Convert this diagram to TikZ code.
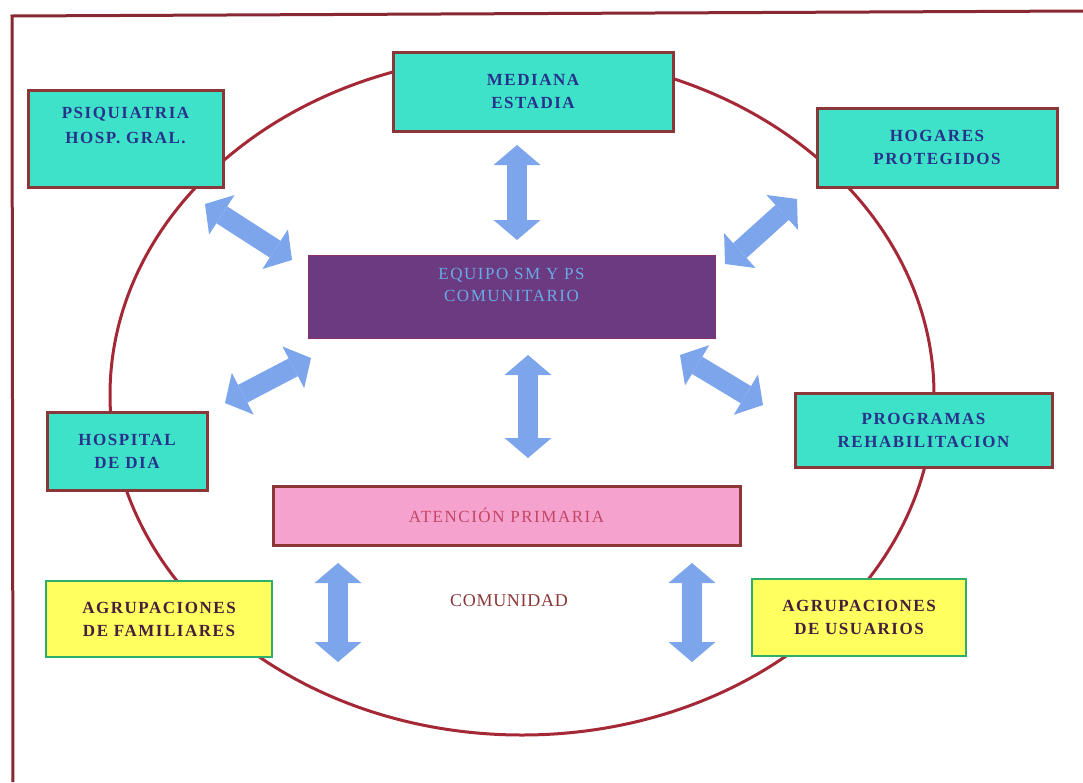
\documentclass[tikz,border=0pt]{standalone}
\usepackage{fontspec}
\setmainfont{Liberation Serif}
\newfontfamily\boxfont[LetterSpace=9]{Liberation Serif}
\newfontfamily\plainfont[LetterSpace=4]{Liberation Serif}
\usetikzlibrary{arrows.meta}

\definecolor{framered}{RGB}{135,40,50}
\definecolor{ringred}{RGB}{165,40,55}
\definecolor{boxred}{RGB}{140,55,55}
\definecolor{tealfill}{RGB}{62,226,200}
\definecolor{navytext}{RGB}{40,50,140}
\definecolor{purplefill}{RGB}{108,58,128}
\definecolor{lightbluetext}{RGB}{105,170,230}
\definecolor{pinkfill}{RGB}{245,162,206}
\definecolor{pinktext}{RGB}{195,70,100}
\definecolor{yellowfill}{RGB}{255,255,95}
\definecolor{greenedge}{RGB}{45,175,105}
\definecolor{darktext}{RGB}{70,30,60}
\definecolor{arrowblue}{RGB}{125,165,235}

\begin{document}
\begin{tikzpicture}[x=1pt,y=-1pt,
  tealbox/.style={draw=boxred, line width=3pt, fill=tealfill, text=navytext,
    font=\boxfont\bfseries\fontsize{17}{23}\selectfont, align=center, inner sep=0pt},
  teambox/.style={draw=purplefill!85!red, line width=1pt, fill=purplefill, text=lightbluetext,
    font=\boxfont\fontsize{17}{22}\selectfont, align=center, inner sep=0pt},
  pinkbox/.style={draw=boxred, line width=3pt, fill=pinkfill, text=pinktext,
    font=\boxfont\fontsize{17}{22}\selectfont, align=center, inner sep=0pt},
  yellowbox/.style={draw=greenedge, line width=2pt, fill=yellowfill, text=darktext,
    font=\boxfont\bfseries\fontsize{17}{23}\selectfont, align=center, inner sep=0pt},
  fatarrow/.style={draw=arrowblue, line width=20pt,
    arrows={Triangle[length=20pt,width=47pt,line width=0pt]-Triangle[length=20pt,width=47pt,line width=0pt]}},
  ring/.style={draw=ringred, line width=3pt},
  frameline/.style={draw=framered, line width=3pt}]

\useasboundingbox (0,0) rectangle (1083,782);
\fill[white] (0,0) rectangle (1083,782);

% open frame: left side and top
\coordinate (fbl) at (13,782);
\coordinate (ftl) at (12,16);
\coordinate (ftr) at (1083,11);
\draw[frameline] (fbl) -- (ftl) -- (ftr);

% community ring
\coordinate (ringc) at (522,395);
\draw[ring] (ringc) ellipse [x radius=412, y radius=340];

% services around the ring
\node[tealbox, minimum width=280, minimum height=79] (mediana) at (533,91.5) {MEDIANA\\ESTADIA};
\node[tealbox, minimum width=195, minimum height=97] (psiq) at (125.5,138.5) {PSIQUIATRIA\\[2pt]HOSP. GRAL.\\[4pt]};
\node[tealbox, minimum width=240, minimum height=79] (hogares) at (937,147.5) {HOGARES\\PROTEGIDOS};
\node[tealbox, minimum width=160, minimum height=78] (hospital) at (127,451) {HOSPITAL\\DE DIA};
\node[tealbox, minimum width=257, minimum height=74] (programas) at (923.5,430) {PROGRAMAS\\REHABILITACION};

% central team and primary care
\node[teambox, minimum width=407, minimum height=83] (equipo) at (511.5,296.5) {EQUIPO SM Y PS\\COMUNITARIO\\[2pt]};
\node[pinkbox, minimum width=467, minimum height=59] (atencion) at (506.5,515.5) {ATENCIÓN PRIMARIA};

% groups
\node[yellowbox, minimum width=226, minimum height=76] (familiares) at (159,619) {AGRUPACIONES\\DE FAMILIARES};
\node[yellowbox, minimum width=214, minimum height=77] (usuarios) at (859,617.5) {AGRUPACIONES\\DE USUARIOS};

\node[text=boxred, font=\plainfont\fontsize{18}{22}\selectfont, inner sep=0pt] (comunidad) at (509,601) {COMUNIDAD};

% two-way links
\coordinate (m1) at (517,145);   \coordinate (m2) at (517,240);
\coordinate (p1) at (205,204);   \coordinate (p2) at (292,260);
\coordinate (h1) at (225,403);   \coordinate (h2) at (311,358);
\coordinate (g1) at (725,264);   \coordinate (g2) at (797,199);
\coordinate (r1) at (680,355);   \coordinate (r2) at (763,405);
\coordinate (c1) at (528,355);   \coordinate (c2) at (528,458);
\coordinate (f1) at (338,563);   \coordinate (f2) at (338,662);
\coordinate (u1) at (692,563);   \coordinate (u2) at (692,662);

\draw[fatarrow] (m1) -- (m2);
\draw[fatarrow] (p1) -- (p2);
\draw[fatarrow] (h1) -- (h2);
\draw[fatarrow] (g1) -- (g2);
\draw[fatarrow] (r1) -- (r2);
\draw[fatarrow] (c1) -- (c2);
\draw[fatarrow] (f1) -- (f2);
\draw[fatarrow] (u1) -- (u2);

\end{tikzpicture}
\end{document}
